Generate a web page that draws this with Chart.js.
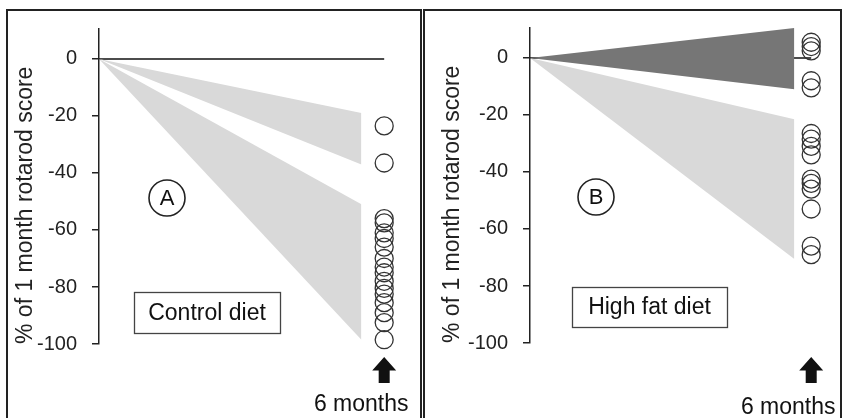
<!DOCTYPE html>
<html>
<head>
<meta charset="utf-8">
<script src="https://cdn.jsdelivr.net/npm/chart.js@4.4.1/dist/chart.umd.min.js"></script>
<style>
  html, body { margin: 0; padding: 0; background: #fff; }
  body { width: 844px; height: 418px; position: relative; overflow: hidden; }
  .panel { position: absolute; top: 0; width: 422px; height: 418px; }
  .frame { position: absolute; border: 2px solid #222; box-sizing: border-box; }
</style>
</head>
<body>
<div class="frame" style="left:6px;top:9px;width:416px;height:440px"></div>
<div class="frame" style="left:423px;top:9px;width:419px;height:440px"></div>
<div class="panel" style="left:0"><canvas id="panelA" width="422" height="418"></canvas></div>
<div class="panel" style="left:422px"><canvas id="panelB" width="422" height="418"></canvas></div>
<script>
// Rotarod performance at 6 months, as % change from the 1 month score
const FONT = '"Liberation Sans", Arial, sans-serif';
const START_MONTH = 1;
const SCORE_MONTH = 6;
const yTicks = [0, -20, -40, -60, -80, -100];

// Control diet: two decline bands (upper, lower bound at the band end)
const controlBandEnd = 5.6;
const controlMildBand = [-19, -37];
const controlSevereBand = [-51, -98.5];
const controlScores = [-23.5, -36.5, -56, -57.5, -61, -63, -66, -70, -73, -75, -78, -80.5, -82.5, -85.5, -89, -92.5, -98.5];

// High fat diet: a stable band and a decline band
const hfdBandEnd = 5.7;
const hfdStableBand = [10.5, -11];
const hfdDeclineBand = [-21.5, -70.5];
const hfdScores = [5.5, 4, 2.5, -8, -10.5, -26.5, -28.5, -31, -34, -42.5, -44, -46, -53, -66, -69];

const LIGHT = '#d9d9d9';
const DARK = '#767676';

function band(end, bounds, color) {
  const edge = (y) => [{ x: START_MONTH, y: 0 }, { x: end, y }];
  return [
    { type: 'line', data: edge(bounds[0]), fill: false, borderColor: 'rgba(0,0,0,0)',
      borderWidth: 0, pointRadius: 0, clip: false },
    { type: 'line', data: edge(bounds[1]), fill: '-1', backgroundColor: color,
      borderColor: 'rgba(0,0,0,0)', borderWidth: 0, pointRadius: 0, clip: false }
  ];
}

function scoreSet(scores) {
  return {
    type: 'scatter',
    data: scores.map(v => ({ x: SCORE_MONTH, y: v })),
    pointRadius: 9,
    pointBackgroundColor: 'rgba(0,0,0,0)',
    pointBorderColor: '#333',
    pointBorderWidth: 1.3,
    clip: false
  };
}

function zeroLine() {
  return {
    type: 'line',
    data: [{ x: START_MONTH, y: 0 }, { x: SCORE_MONTH, y: 0 }],
    borderColor: '#111', borderWidth: 1.5, pointRadius: 0, fill: false
  };
}

// Text annotations: circled panel letter, diet box, arrow and "6 months"
const notesPlugin = {
  id: 'panelNotes',
  afterDraw(chart, args, o) {
    const ctx = chart.ctx;
    ctx.save();
    ctx.fillStyle = '#111';
    ctx.strokeStyle = '#222';
    // circled letter
    ctx.lineWidth = 1.6;
    ctx.beginPath();
    ctx.arc(o.letterAt[0], o.letterAt[1], 18, 0, Math.PI * 2);
    ctx.stroke();
    ctx.font = '22px ' + FONT;
    ctx.textAlign = 'center';
    ctx.textBaseline = 'middle';
    ctx.fillText(o.letter, o.letterAt[0], o.letterAt[1] + 1);
    // diet box
    const [bx, by, bw, bh] = o.box;
    ctx.lineWidth = 1.3;
    ctx.strokeStyle = '#444';
    ctx.strokeRect(bx + 0.5, by + 0.5, bw, bh);
    ctx.font = '23px ' + FONT;
    ctx.fillText(o.boxText, bx + bw / 2, by + bh / 2 + 1);
    // arrow under the 6 month scores
    const ax = chart.scales.x.getPixelForValue(SCORE_MONTH);
    ctx.beginPath();
    ctx.moveTo(ax, 357);
    ctx.lineTo(ax + 12, 370.5);
    ctx.lineTo(ax + 5.5, 370.5);
    ctx.lineTo(ax + 5.5, 383);
    ctx.lineTo(ax - 5.5, 383);
    ctx.lineTo(ax - 5.5, 370.5);
    ctx.lineTo(ax - 12, 370.5);
    ctx.closePath();
    ctx.fill();
    ctx.textBaseline = 'alphabetic';
    ctx.fillText('6 months', ax - 23, o.monthsBaseline);
    ctx.restore();
  }
};

function makeChart(id, cfg) {
  return new Chart(document.getElementById(id), {
    type: 'line',
    data: {
      datasets: [scoreSet(cfg.scores), ...cfg.bands, zeroLine()]
    },
    options: {
      responsive: false,
      animation: false,
      events: [],
      layout: { padding: { left: cfg.padLeft, right: cfg.padRight, top: cfg.top, bottom: 418 - cfg.bottom } },
      plugins: {
        legend: { display: false },
        tooltip: { enabled: false },
        panelNotes: cfg.notes
      },
      elements: { line: { tension: 0 } },
      scales: {
        x: { type: 'linear', min: START_MONTH, max: 6.4, display: false },
        y: {
          type: 'linear', min: -100, max: 10.5,
          afterBuildTicks: (s) => { s.ticks = yTicks.map(v => ({ value: v })); },
          afterFit: (s) => { s.width = cfg.axisX - cfg.padLeft; },
          grid: { drawOnChartArea: false, drawTicks: true, tickLength: 7, color: '#222', lineWidth: 1.5 },
          border: { display: true, color: '#222', width: 1.5 },
          ticks: { autoSkip: false, padding: 15, color: '#222', font: { family: FONT, size: 20 } },
          title: {
            display: true, text: '% of 1 month rotarod score', align: 'start',
            color: '#222', font: { family: FONT, size: 23 }, padding: { top: 4, bottom: 0 }
          }
        }
      }
    },
    plugins: [notesPlugin]
  });
}

makeChart('panelA', {
  scores: controlScores,
  bands: [...band(controlBandEnd, controlMildBand, LIGHT), ...band(controlBandEnd, controlSevereBand, LIGHT)],
  padLeft: 8, padRight: 15, axisX: 99, top: 29, bottom: 344,
  notes: { letter: 'A', letterAt: [167, 198], box: [134, 292, 146, 41], boxText: 'Control diet', monthsBaseline: 411 }
});

makeChart('panelB', {
  scores: hfdScores,
  bands: [...band(hfdBandEnd, hfdStableBand, DARK), ...band(hfdBandEnd, hfdDeclineBand, LIGHT)],
  padLeft: 13, padRight: 8, axisX: 108, top: 28, bottom: 343,
  notes: { letter: 'B', letterAt: [174, 197], box: [150, 287, 155, 40], boxText: 'High fat diet', monthsBaseline: 414 }
});
</script>
</body>
</html>
